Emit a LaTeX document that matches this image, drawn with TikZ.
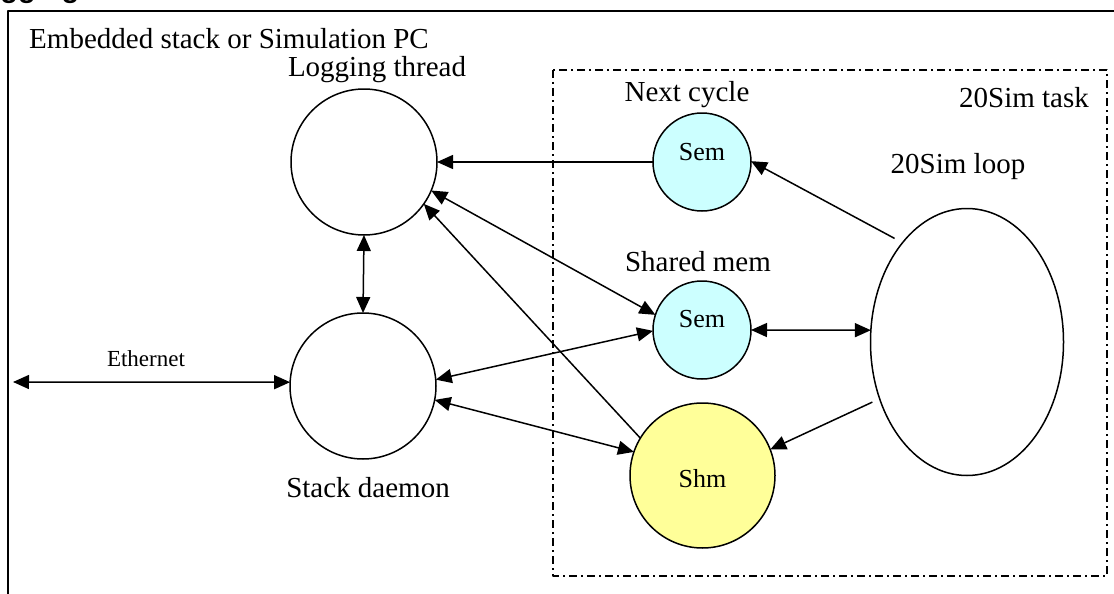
\documentclass[tikz,border=0pt]{standalone}
\usepackage{fontspec}
\setmainfont{Liberation Serif}
\newfontfamily\headfont{Liberation Sans}
\usepackage{tikz}
\usetikzlibrary{arrows.meta,shapes.geometric}

\definecolor{semcyan}{HTML}{CCFFFF}
\definecolor{shmyellow}{HTML}{FFFF99}

\begin{document}
\begin{tikzpicture}[x=1pt, y=-1pt, line join=round,
    every node/.style={inner sep=0pt, outer sep=0pt},
    proc/.style={draw, circle, line width=1.5pt, minimum size=146pt},
    semcirc/.style={draw, circle, line width=1.5pt, minimum size=98pt, fill=semcyan},
    lbl/.style={font=\fontsize{29}{34}\selectfont, anchor=base},
    inner/.style={font=\fontsize{26}{30}\selectfont},
    link/.style={line width=1.5pt, -{Triangle[length=16pt,width=14pt]}},
    twoway/.style={line width=1.5pt, {Triangle[length=16pt,width=14pt]}-{Triangle[length=16pt,width=14pt]}}]

      % page size, everything outside is cut away
      \clip (0,0) rectangle (1114,594);

      % heading of the page, only its lower edge shows
      \node[font=\headfont\bfseries\fontsize{29}{34}\selectfont, anchor=base west] (heading) at (-35,-2.5) {Logging};

      % outer frame and the task box
      \draw[line width=1.8pt] (8,610) -- (8,11) -- (1130,11);
      \draw[line width=1.5pt, dash pattern=on 8pt off 4pt on 2pt off 4pt] (553,70) rectangle (1107,576);

      % threads
      \node[proc] (logger) at (364,162) {};
      \node[proc] (daemon) at (363,386) {};

      % semaphores and shared memory
      \node[semcirc, label={[inner, yshift=10pt]center:Sem}] (nextsem) at (702,162) {};
      \node[semcirc, label={[inner, yshift=11pt]center:Sem}] (sharedsem) at (702,330) {};
      \node[draw, circle, line width=1.5pt, minimum size=145pt, fill=shmyellow,
            label={[inner, yshift=-3pt]center:Shm}] (shm) at (702.5,475.5) {};

      % 20Sim loop
      \node[draw, ellipse, line width=1.5pt, minimum width=193pt, minimum height=267pt] (simloop) at (967,342) {};

      % labels
      \node[lbl] (embedded) at (229,49) {Embedded stack or Simulation PC};
      \node[lbl] (loggerlbl) at (377,77) {Logging thread};
      \node[lbl] (daemonlbl) at (368,497) {Stack daemon};
      \node[lbl] (nextlbl) at (687,102) {Next cycle};
      \node[lbl] (sharedlbl) at (698,271) {Shared mem};
      \node[lbl] (tasklbl) at (1024,107) {20Sim task};
      \node[lbl] (looplbl) at (958,173) {20Sim loop};
      \node[font=\fontsize{23}{27}\selectfont, anchor=base] (ethlbl) at (146,366) {Ethernet};

      % connections
      \coordinate (ethend) at (13,382);
      \draw[twoway] (ethend) -- (daemon.177);
      \draw[twoway] (logger.south) -- (daemon.north);
      \draw[link] (nextsem.west) -- (logger.east);
      \draw[link, shorten <=9pt] (simloop.123) -- (nextsem.1);
      \draw[twoway] (logger.337) -- (sharedsem.162);
      \draw[twoway] (daemon.5) -- (sharedsem.181);
      \draw[twoway] (daemon.349) -- (shm.161);
      \draw[link] (shm.149) -- (logger.325);
      \draw[twoway] (sharedsem.east) -- (simloop.173);
      \draw[link, shorten <=8pt] (simloop.213) -- (shm.21);

\end{tikzpicture}
\end{document}
